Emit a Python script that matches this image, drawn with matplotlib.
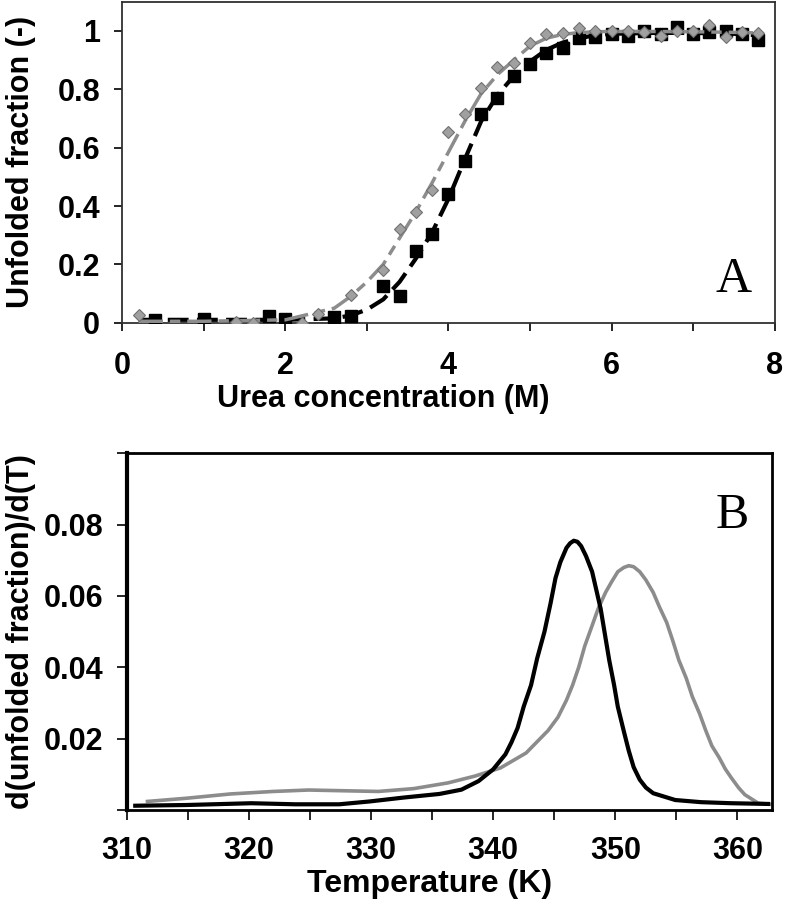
import numpy as np
import matplotlib.pyplot as plt

plt.rcParams['font.family'] = ['Liberation Sans', 'DejaVu Sans']

# ---- panel A: urea denaturation ----
urea_sq = [0.4, 1.0, 1.8, 2.0, 2.6, 2.8, 3.2, 3.4, 3.6, 3.8, 4.0, 4.2, 4.4, 4.6,
           4.8, 5.0, 5.2, 5.4, 5.6, 5.8, 6.0, 6.2, 6.4, 6.6, 6.8, 7.0, 7.2, 7.4,
           7.6, 7.8]
frac_sq = [0.01, 0.012, 0.022, 0.014, 0.018, 0.022, 0.125, 0.092, 0.245, 0.305,
           0.44, 0.555, 0.715, 0.77, 0.845, 0.885, 0.925, 0.94, 0.975, 0.98,
           0.99, 0.983, 1.0, 0.99, 1.012, 0.99, 0.995, 1.0, 0.99, 0.97]

urea_di = [0.2, 1.4, 1.6, 2.2, 2.4, 2.8, 3.2, 3.4, 3.6, 3.8, 4.0, 4.2, 4.4, 4.6,
           4.8, 5.0, 5.2, 5.4, 5.6, 5.8, 6.0, 6.2, 6.4, 6.6, 6.8, 7.0, 7.2, 7.4,
           7.6, 7.8]
frac_di = [0.025, 0.004, 0.0, 0.0, 0.03, 0.095, 0.18, 0.32, 0.38, 0.455, 0.655,
           0.715, 0.805, 0.875, 0.89, 0.96, 0.988, 0.994, 1.01, 1.0, 0.998,
           1.0, 0.995, 0.983, 1.0, 0.998, 1.02, 0.98, 0.995, 0.994]

fit_x = [0.2, 1.0, 2.0, 2.6, 2.8, 3.0, 3.2, 3.4, 3.6, 3.8, 4.0, 4.2, 4.4, 4.6,
         4.8, 5.0, 5.2, 5.4, 5.6, 5.8, 6.0, 6.5, 7.0, 7.5, 7.8]
fit_black = [0.01, 0.01, 0.01, 0.015, 0.025, 0.045, 0.08, 0.14, 0.22, 0.31, 0.425,
             0.56, 0.69, 0.78, 0.845, 0.895, 0.935, 0.96, 0.975, 0.985, 0.99,
             0.993, 0.993, 0.99, 0.985]
fit_grey = [0.005, 0.005, 0.01, 0.05, 0.09, 0.14, 0.2, 0.29, 0.38, 0.48, 0.585,
            0.69, 0.785, 0.85, 0.9, 0.948, 0.975, 0.988, 0.994, 0.997, 0.998,
            0.998, 0.997, 0.995, 0.993]

# ---- panel B: derivative of unfolded fraction vs temperature ----
temp_black = [310.7, 314.9, 320.2, 323.8, 327.4, 329.9, 332.7, 335.6, 337.4, 338.8,
              340.0, 341.0, 341.5, 342.0, 342.5, 343.1, 343.6, 344.2, 344.7, 345.1,
              345.5, 346.0, 346.3, 346.6, 346.9, 347.2, 347.6, 348.1, 348.8, 349.5,
              349.9, 350.2, 350.7, 351.1, 351.5, 352.0, 352.5, 353.1, 354.9, 357.0,
              359.5, 361.0, 362.5]
dfdt_black = [0.0012, 0.0014, 0.0019, 0.0016, 0.0016, 0.0024, 0.0035, 0.0045, 0.0057,
              0.0081, 0.0114, 0.0156, 0.019, 0.023, 0.029, 0.035, 0.0425, 0.050,
              0.058, 0.065, 0.0695, 0.0735, 0.0748, 0.0755, 0.0752, 0.074, 0.0712,
              0.0668, 0.0564, 0.042, 0.035, 0.029, 0.022, 0.0166, 0.012, 0.0085,
              0.0063, 0.0047, 0.0028, 0.0022, 0.0019, 0.0018, 0.0017]

temp_grey = [311.7, 314.9, 318.5, 322.0, 324.9, 327.7, 330.6, 333.5, 336.3, 338.5,
             340.6, 342.7, 344.5, 345.3, 346.0, 346.5, 347.0, 347.5, 348.1, 348.6,
             349.2, 349.7, 350.2, 350.7, 351.1, 351.5, 352.0, 352.5, 353.1, 353.6,
             354.2, 354.7, 355.2, 355.8, 356.3, 356.9, 357.4, 357.9, 358.5, 359.0,
             359.5, 360.1, 360.6, 361.7, 362.7]
dfdt_grey = [0.0024, 0.0033, 0.0045, 0.0052, 0.0056, 0.0054, 0.0052, 0.006, 0.0076,
             0.0095, 0.0118, 0.016, 0.0223, 0.026, 0.0308, 0.035, 0.040, 0.046,
             0.0517, 0.0565, 0.061, 0.064, 0.0668, 0.068, 0.0685, 0.0682, 0.0668,
             0.0645, 0.061, 0.057, 0.0526, 0.0475, 0.042, 0.037, 0.0318, 0.027,
             0.0223, 0.018, 0.0147, 0.0115, 0.009, 0.0062, 0.0043, 0.0019, 0.0016]

grey = '#8c8c8c'
tick_font = 22

fig = plt.figure(figsize=(7.86, 9.0), dpi=100)

# panel A
axA = fig.add_axes([0.1556, 0.6414, 0.830, 0.3567])
axA.plot(fit_x, fit_black, color='black', lw=3, dashes=(5, 2), zorder=2)
axA.plot(urea_sq, frac_sq, 's', color='black', ms=8, zorder=3)
axA.plot(fit_x, fit_grey, color=grey, lw=2.5, dashes=(7, 2, 3, 2), zorder=4)
axA.plot(urea_di, frac_di, 'D', color='#a0a0a0', mec='#707070', mew=0.8, ms=6, zorder=5)
axA.set_xlim(0, 8)
axA.set_ylim(0, 1.1)
axA.set_xticks(np.arange(0, 9, 1))
axA.set_xticklabels(['0', '', '2', '', '4', '', '6', '', '8'])
axA.set_yticks([0, 0.2, 0.4, 0.6, 0.8, 1.0])
axA.set_yticklabels(['0', '0.2', '0.4', '0.6', '0.8', '1'])
for s in axA.spines.values():
    s.set_linewidth(1.3)
    s.set_color('#303030')
axA.tick_params(direction='out', length=6, width=1.2, labelsize=tick_font)
axA.tick_params(axis='x', pad=14)
axA.tick_params(axis='y', pad=10)
for lab in axA.get_xticklabels() + axA.get_yticklabels():
    lab.set_fontweight('bold')
axA.set_xlabel('Urea concentration (M)', fontsize=tick_font, fontweight='bold')
axA.xaxis.set_label_coords(0.40, -0.19)
axA.set_ylabel('Unfolded fraction (-)', fontsize=tick_font, fontweight='bold')
axA.yaxis.set_label_coords(-0.132, 0.5)
axA.text(0.965, 0.06, 'A', transform=axA.transAxes, ha='right', va='bottom',
         fontsize=36, family='Liberation Serif')

# panel B
axB = fig.add_axes([0.1612, 0.1, 0.8206, 0.3963])
axB.plot(temp_grey, dfdt_grey, color=grey, lw=2.6)
axB.plot(temp_black, dfdt_black, color='black', lw=3)
axB.set_xlim(310, 362.8)
axB.set_ylim(0, 0.1)
axB.set_xticks(np.arange(310, 361, 5))
axB.set_xticklabels(['310', '', '320', '', '330', '', '340', '', '350', '', '360'])
axB.set_yticks([0, 0.02, 0.04, 0.06, 0.08, 0.1])
axB.set_yticklabels(['', '0.02', '0.04', '0.06', '0.08', ''])
for s in axB.spines.values():
    s.set_linewidth(2)
    s.set_color('black')
axB.spines['left'].set_linewidth(3)
axB.tick_params(direction='out', length=7, width=1.2, labelsize=tick_font)
axB.tick_params(axis='x', pad=12)
axB.tick_params(axis='y', pad=10)
for lab in axB.get_xticklabels() + axB.get_yticklabels():
    lab.set_fontweight('bold')
axB.set_xlabel('Temperature (K)', fontsize=23, fontweight='bold')
axB.xaxis.set_label_coords(0.47, -0.165)
axB.set_ylabel('d(unfolded fraction)/d(T)', fontsize=tick_font, fontweight='bold')
axB.yaxis.set_label_coords(-0.14, 0.5)
axB.text(0.965, 0.76, 'B', transform=axB.transAxes, ha='right', va='bottom',
         fontsize=36, family='Liberation Serif')

fig.savefig('out.png', dpi=100)
